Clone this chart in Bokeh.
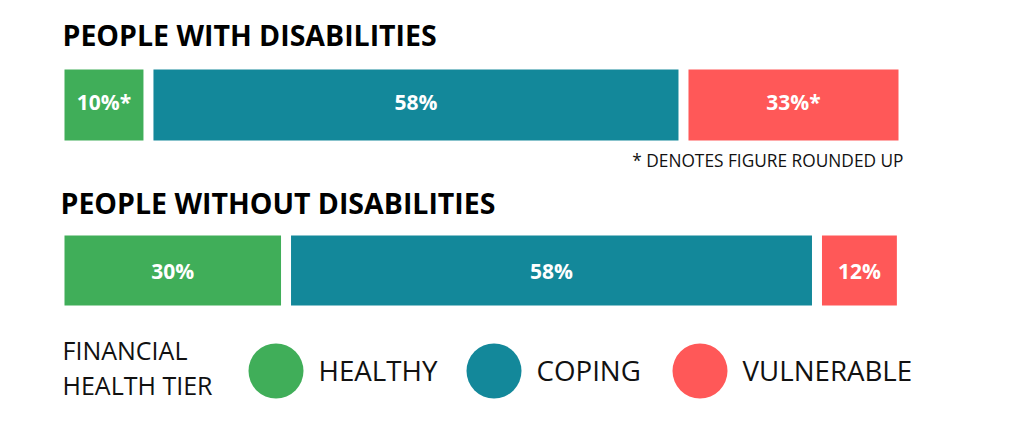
from bokeh.plotting import figure
from bokeh.models import Range1d
from bokeh.core.properties import value
from bokeh.embed import file_html
from bokeh.resources import INLINE

# ---- data ----
groups = ["PEOPLE WITH DISABILITIES", "PEOPLE WITHOUT DISABILITIES"]
tiers = ["HEALTHY", "COPING", "VULNERABLE"]
tier_colors = ["#40AE59", "#13889A", "#FF5858"]
with_pct = [10, 58, 33]
without_pct = [30, 58, 12]
with_rounded = [True, False, True]
without_rounded = [False, False, False]
# bar lengths as drawn in the picture (share of the row, %)
with_share = [9.7, 64.5, 25.8]
without_share = [26.6, 64.0, 9.2]
footnote = "* DENOTES FIGURE ROUNDED UP"
legend_title = ["FINANCIAL", "HEALTH TIER"]

FONT = "Open Sans"
W, H = 1008, 406
p = figure(width=W, height=H, output_backend="svg", toolbar_location=None,
           x_range=Range1d(0, W), y_range=Range1d(H, 0),
           min_border=0, outline_line_color=None)
p.axis.visible = False
p.grid.visible = False
p.background_fill_color = "white"
p.border_fill_color = "white"

X0 = 64          # left edge of bars
SCALE = 8.14     # px per share unit
GAP = 10
rows = [
    (with_pct, with_rounded, with_share, 69, 140, 34, 101),
    (without_pct, without_rounded, without_share, 235, 305, 202, 270),
]
for gi, (pct, rnd, share, top, bot, title_y, lab_y) in enumerate(rows):
    lefts, rights, centers, labels = [], [], [], []
    cum = 0.0
    for i, s in enumerate(share):
        l = X0 + cum * SCALE + i * GAP
        r = l + s * SCALE
        lefts.append(l); rights.append(r); centers.append((l + r) / 2)
        labels.append(f"{pct[i]}%" + ("*" if rnd[i] else ""))
        cum += s
    p.quad(left=lefts, right=rights, top=[top] * 3, bottom=[bot] * 3,
           fill_color=tier_colors, line_color=None)
    p.text(x=centers, y=[lab_y] * 3, text=labels, text_color="white",
           text_font=value(FONT), text_font_style="bold", text_font_size="21px",
           text_align="center", text_baseline="alphabetic")
    p.text(x=[62 - 2 * gi], y=[title_y], text=[groups[gi]], text_color="black",
           text_font=value(FONT), text_font_style="bold", text_font_size="28.5px",
           text_align="left", text_baseline="alphabetic")

p.text(x=[903], y=[160], text=[footnote], text_color="#111111",
       text_font=value(FONT), text_font_size="17.3px",
       text_align="right", text_baseline="alphabetic")

# legend
p.text(x=[62, 62], y=[349, 384], text=legend_title, text_color="#111111",
       text_font=value(FONT), text_font_size="25px",
       text_align="left", text_baseline="alphabetic")
cx = [275.5, 493.5, 699.5]
p.scatter(x=cx, y=[370.5] * 3, size=55, marker="circle",
          fill_color=tier_colors, line_color=None)
p.text(x=[c + 42.5 for c in cx], y=[369] * 3, text=tiers, text_color="#111111",
       text_font=value(FONT), text_font_size="27.7px",
       text_align="left", text_baseline="alphabetic")

open("out.html", "w").write(file_html(p, INLINE))
